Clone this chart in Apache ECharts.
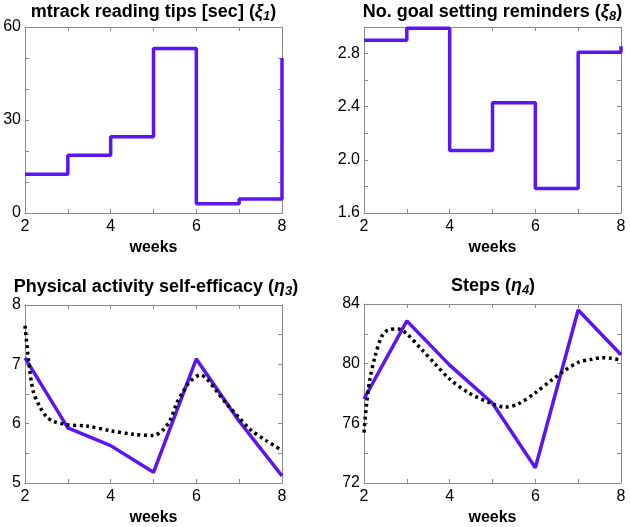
<!DOCTYPE html>
<html>
<head>
<meta charset="utf-8">
<script src="https://cdn.jsdelivr.net/npm/echarts@6/dist/echarts.min.js"></script>
<style>
html,body{margin:0;padding:0;background:#fff;}
#c{width:630px;height:527px;}
</style>
</head>
<body>
<div id="c"></div>
<script>
// ---- data ----
var weeks = [2, 3, 4, 5, 6, 7, 8];
var readingTips = [12.5, 18.6, 24.6, 53.1, 3.0, 4.5, 50];
var goalReminders = [2.90, 2.99, 2.07, 2.43, 1.785, 2.81, 2.855];
var selfEfficacy = [7.11, 5.93, 5.63, 5.18, 7.09, 6.04, 5.12];
var selfEffFitX = [2, 2.08, 2.19, 2.35, 2.5, 2.66, 3, 3.44, 4, 4.54, 5, 5.23, 5.39, 5.54, 5.7, 5.85, 6.09, 6.24, 6.47, 6.7, 7, 7.26, 7.64, 8];
var selfEffFitY = [7.65, 7.09, 6.55, 6.28, 6.12, 6.04, 5.98, 5.96, 5.88, 5.82, 5.80, 5.90, 6.06, 6.34, 6.55, 6.71, 6.82, 6.76, 6.55, 6.34, 6.10, 5.90, 5.71, 5.55];
var steps = [77.63, 82.87, 79.9, 77.35, 73.02, 83.6, 80.6];
var stepsFitX = [2, 2.06, 2.14, 2.26, 2.41, 2.57, 2.8, 3, 3.35, 3.66, 4, 4.44, 5, 5.29, 5.6, 6, 6.38, 6.69, 7, 7.32, 7.55, 7.78, 8];
var stepsFitY = [75.38, 77.3, 79.0, 80.5, 81.8, 82.27, 82.33, 82.0, 80.94, 79.98, 78.97, 78.05, 77.3, 77.09, 77.3, 78.05, 78.9, 79.55, 80.08, 80.3, 80.4, 80.36, 80.23];

var xTicks = [2, 4, 6, 8];
var yTicks1 = [0, 30, 60];
var yTicks2 = [1.6, 2.0, 2.4, 2.8];
var yTicks3 = [5, 6, 7, 8];
var yTicks4 = [72, 76, 80, 84];

function zip(a, b) { return a.map(function (v, i) { return [v, b[i]]; }); }

var FONT = 'Liberation Sans, Arial, Helvetica, sans-serif';
var AXC = '#8a8a8a';
var PURPLE = '#5a14f5';

var grids = [
  {left: 25, top: 27, width: 257, height: 186},
  {left: 364, top: 27, width: 257, height: 186},
  {left: 25, top: 305, width: 257, height: 186},
  {left: 364, top: 304, width: 257, height: 187}
];
var yCfg = [
  {min: yTicks1[0], max: yTicks1[yTicks1.length-1], interval: 30, minor: 3, fmt: function(v){return String(v);}},
  {min: yTicks2[0], max: 3.0, interval: 0.4, minor: 2, fmt: function(v){return v.toFixed(1);}},
  {min: yTicks3[0], max: yTicks3[yTicks3.length-1], interval: 1, minor: 2, fmt: function(v){return String(v);}},
  {min: yTicks4[0], max: yTicks4[yTicks4.length-1], interval: 4, minor: 2, fmt: function(v){return String(v);}}
];

var xAxes = [], yAxes = [];
grids.forEach(function (g, i) {
  var base = {
    gridIndex: i, type: 'value', min: xTicks[0], max: xTicks[xTicks.length-1], interval: 2,
    axisLine: {show: true, onZero: false, lineStyle: {color: AXC, width: 1}},
    axisTick: {show: true, inside: true, length: 4, lineStyle: {color: AXC}},
    minorTick: {show: true, splitNumber: 2, length: 4, lineStyle: {color: AXC}},
    splitLine: {show: false}
  };
  xAxes.push(Object.assign({}, base, {
    position: 'bottom',
    axisLabel: {show: true, color: '#000', fontSize: 16, fontFamily: FONT, margin: 6},
    name: 'weeks', nameLocation: 'middle', nameGap: 27,
    nameTextStyle: {color: '#000', fontSize: 16, fontWeight: 'bold', fontFamily: FONT}
  }));
  xAxes.push(Object.assign({}, base, {position: 'top', axisLabel: {show: false}}));
  var c = yCfg[i];
  var ybase = {
    gridIndex: i, type: 'value', min: c.min, max: c.max, interval: c.interval,
    axisLine: {show: true, onZero: false, lineStyle: {color: AXC, width: 1}},
    axisTick: {show: true, inside: true, length: 4, lineStyle: {color: AXC}},
    minorTick: {show: true, splitNumber: c.minor, length: 4, lineStyle: {color: AXC}},
    splitLine: {show: false}
  };
  yAxes.push(Object.assign({}, ybase, {
    position: 'left',
    axisLabel: {show: true, color: '#000', fontSize: 16, fontFamily: FONT, margin: 4,
      showMaxLabel: i === 1 ? false : true, formatter: c.fmt}
  }));
  yAxes.push(Object.assign({}, ybase, {position: 'right', axisLabel: {show: false}}));
});

var rich = {
  b: {fontSize: 18, fontWeight: 'bold', fontFamily: FONT, color: '#000', lineHeight: 22},
  g: {fontSize: 18, fontWeight: 'bold', fontStyle: 'italic', fontFamily: FONT, color: '#000', lineHeight: 22},
  s: {fontSize: 13, fontWeight: 'bold', fontStyle: 'italic', fontFamily: FONT, color: '#000', lineHeight: 13, padding: [9, 0, 0, 0]}
};
function mkTitle(text, cx, top) {
  return {text: text, left: cx, top: top, textAlign: 'center', padding: 0,
    textStyle: {rich: rich, fontSize: 18, fontWeight: 'bold', fontFamily: FONT}};
}

var option = {
  animation: false,
  backgroundColor: '#fff',
  title: [
    mkTitle('{b|mtrack reading tips [sec] (}{g|ξ}{s|1}{b|)}', 153.5, 1),
    mkTitle('{b|No. goal setting reminders (}{g|ξ}{s|8}{b|)}', 492.5, 1),
    mkTitle('{b|Physical activity self-efficacy (}{g|η}{s|3}{b|)}', 156, 276),
    mkTitle('{b|Steps (}{g|η}{s|4}{b|)}', 493, 275)
  ],
  grid: grids,
  xAxis: xAxes,
  yAxis: yAxes,
  series: [
    {type: 'line', xAxisIndex: 0, yAxisIndex: 0, step: 'end', data: zip(weeks, readingTips),
      showSymbol: false, lineStyle: {color: PURPLE, width: 3.5}, clip: true},
    {type: 'line', xAxisIndex: 2, yAxisIndex: 2, step: 'end', data: zip(weeks, goalReminders),
      showSymbol: false, lineStyle: {color: PURPLE, width: 3.5}, clip: true},
    {type: 'line', xAxisIndex: 4, yAxisIndex: 4, data: zip(weeks, selfEfficacy),
      showSymbol: false, lineStyle: {color: PURPLE, width: 3.5}, clip: true},
    {type: 'line', xAxisIndex: 4, yAxisIndex: 4, data: zip(selfEffFitX, selfEffFitY), smooth: 0.3,
      showSymbol: false, lineStyle: {color: '#000', width: 3.5, type: [3, 3.5]}, clip: true, z: 3},
    {type: 'line', xAxisIndex: 6, yAxisIndex: 6, data: zip(weeks, steps),
      showSymbol: false, lineStyle: {color: PURPLE, width: 3.5}, clip: true},
    {type: 'line', xAxisIndex: 6, yAxisIndex: 6, data: zip(stepsFitX, stepsFitY), smooth: 0.3,
      showSymbol: false, lineStyle: {color: '#000', width: 3.5, type: [3, 3.5]}, clip: true, z: 3}
  ]
};
var chart = echarts.init(document.getElementById('c'), null, {renderer: 'canvas'});
chart.setOption(option);
</script>
</body>
</html>
